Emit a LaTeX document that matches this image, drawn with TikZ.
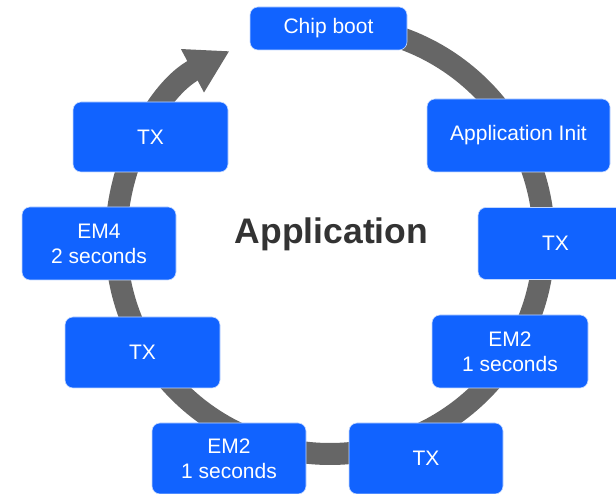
\documentclass[tikz,border=0pt]{standalone}
\usepackage{fontspec}
\setmainfont{Liberation Sans}
\usetikzlibrary{arrows.meta}
\definecolor{boxblue}{HTML}{1163FF}
\definecolor{ringgray}{HTML}{666666}
\definecolor{titlegray}{HTML}{333333}
\tikzset{
  stepbox/.style={fill=boxblue, draw=white!75!boxblue, line width=0.6pt,
    rounded corners=8pt, text=white, font=\fontsize{21}{25}\selectfont,
    align=center, inner sep=0pt, minimum width=155pt, minimum height=72pt},
  ring/.style={draw=ringgray, line width=22pt,
    -{Triangle[length=42pt,width=46pt]}}
}
\begin{document}
\begin{tikzpicture}[x=1pt,y=1pt]
\useasboundingbox (0,0) rectangle (616,494);
\clip (0,0) rectangle (616,494);
\coordinate (c) at (330,254);
\coordinate (rs) at ([shift={(90:214)}]c);
\draw[ring] (rs) arc[start angle=90, end angle=-242, radius=214];
\node[stepbox, minimum width=157pt, minimum height=43pt] (chip) at (328.5,465.5) {Chip boot};
\node[stepbox, minimum width=183pt, minimum height=73pt] (init) at (518.5,358.5) {Application Init};
\node[stepbox] (txr) at (555.5,250.5) {TX};
\node[stepbox, minimum width=156pt, minimum height=73pt] (em2r) at (510,142.5) {EM2\\1 seconds};
\node[stepbox, minimum width=154pt, minimum height=71pt] (txb) at (426,35.5) {TX};
\node[stepbox, minimum width=154pt, minimum height=71pt] (em2b) at (229,35.5) {EM2\\1 seconds};
\node[stepbox, minimum height=71pt] (txl) at (142.5,141.5) {TX};
\node[stepbox, minimum width=154pt, minimum height=73pt] (em4) at (99,250.5) {EM4\\2 seconds};
\node[stepbox, minimum height=70pt] (txlu) at (150.5,357) {TX};
\node[text=titlegray, font=\fontsize{35.5}{40}\bfseries\selectfont] (title) at (331.5,260) {Application};
\end{tikzpicture}
\end{document}
